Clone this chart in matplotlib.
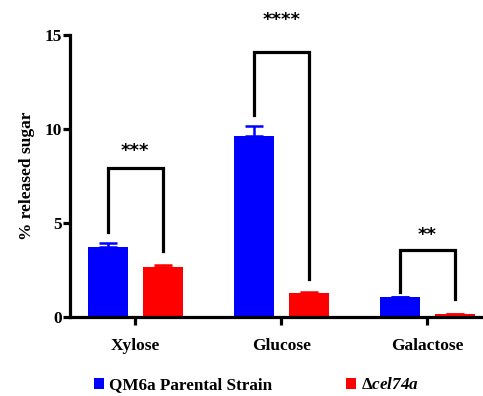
import numpy as np
import matplotlib
matplotlib.use("Agg")
import matplotlib.pyplot as plt

plt.rcParams['font.family'] = ['Liberation Serif', 'DejaVu Serif']
plt.rcParams['font.weight'] = 'bold'
plt.rcParams['mathtext.fontset'] = 'custom'
plt.rcParams['mathtext.rm'] = 'Liberation Serif:bold'
plt.rcParams['mathtext.it'] = 'Liberation Serif:italic:bold'

# data
sugars = ["Xylose", "Glucose", "Galactose"]
parental = [3.75, 9.62, 1.05]
parental_err = [0.18, 0.53, 0.03]
mutant = [2.68, 1.26, 0.16]
mutant_err = [0.09, 0.07, 0.02]
labels = ["QM6a Parental Strain", r"$\Delta$cel74a"]

# significance brackets: (top, left leg bottom, right leg bottom, stars)
brackets = [(7.93, 4.5, 3.5, "***"),
            (14.08, 10.72, 2.03, "****"),
            (3.54, 1.35, 0.96, "**")]
star_y = [8.83, 15.78, 4.35]

fig = plt.figure(figsize=(4.83, 3.96), dpi=100)
ax = fig.add_axes([0.145, 0.1995, 0.855, 0.712])

x = np.arange(len(sugars))
w = 0.274
off = 0.188
b1 = ax.bar(x - off, parental, w, color='#0000ff', label=labels[0],
            yerr=[np.zeros(3), parental_err], ecolor='#0000ff',
            error_kw=dict(capsize=6.5, elinewidth=1.8, capthick=1.8))
b2 = ax.bar(x + off, mutant, w, color='#ff0000', label=labels[1],
            yerr=[np.zeros(3), mutant_err], ecolor='#ff0000',
            error_kw=dict(capsize=6.5, elinewidth=1.8, capthick=1.8))

for i, (top, lb, rb, s) in enumerate(brackets):
    xl, xr = x[i] - off, x[i] + off
    ax.plot([xl, xl, xr, xr], [lb, top, top, rb], color='black', lw=2.3,
            solid_joinstyle='miter', clip_on=False)
    ax.text(x[i], star_y[i], s, ha='center', va='center', fontsize=13,
            family='DejaVu Sans', fontweight='bold', clip_on=False)

ax.set_xlim(-0.445, 2.38)
ax.set_ylim(0, 15)
ax.set_yticks([0, 5, 10, 15])
ax.set_xticks(x)
ax.set_xticklabels(sugars, fontsize=12.5, fontweight='bold')
ax.tick_params(axis='y', labelsize=12.5, width=2.3, length=5, pad=1)
ax.tick_params(axis='x', width=2.3, length=6, pad=9)
ax.set_ylabel("% released sugar", fontsize=12.5, fontweight='bold', labelpad=7)
for sp in ['top', 'right']:
    ax.spines[sp].set_visible(False)
for sp in ['left', 'bottom']:
    ax.spines[sp].set_linewidth(2.3)

leg = fig.legend(handles=[b1, b2], labels=labels, loc='center left',
                 bbox_to_anchor=(0.17, 0.027), ncol=2, frameon=False,
                 fontsize=12.3, handlelength=0.6, handleheight=0.6,
                 handletextpad=0.25, columnspacing=4.35, borderpad=0.2)
leg.get_texts()[1].set_fontstyle('italic')

fig.savefig("out.png", dpi=100)
